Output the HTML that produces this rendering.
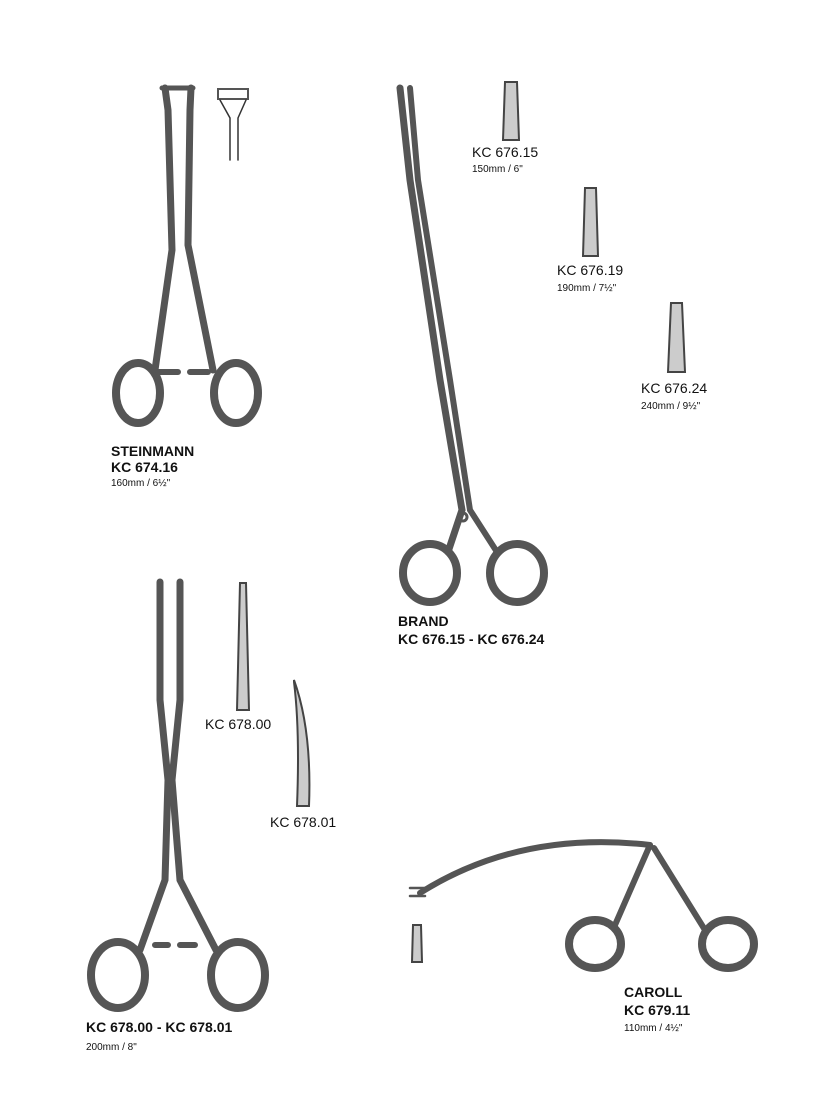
<!DOCTYPE html>
<html><head><meta charset="utf-8"><style>
body{margin:0;background:#fff;}
svg{display:block}
text{font-family:"Liberation Sans",Arial,sans-serif;fill:#111}
.b{font-weight:bold;font-size:14px}
.r{font-size:14px}
.s{font-size:10px}
</style></head><body>
<svg width="826" height="1101" viewBox="0 0 826 1101" xmlns="http://www.w3.org/2000/svg">
<g fill="none" stroke="#555" stroke-linecap="round">
<!-- Steinmann -->
<ellipse cx="138" cy="393" rx="22" ry="30" stroke-width="8"/>
<ellipse cx="236" cy="393" rx="22" ry="30" stroke-width="8"/>
<path d="M155 370 L172 250 L168 110 L165 88" stroke-width="7"/>
<path d="M213 370 L188 245 L190 110 L191 88" stroke-width="7"/>
<path d="M162 88 L182 88 M178 88 L193 88" stroke-width="5"/>
<path d="M158 372 L178 372 M190 372 L208 372" stroke-width="6"/>
<rect x="218" y="89" width="30" height="10" stroke-width="2"/>
<path d="M220 100 L230 118 L230 160 M246 100 L238 118 L238 160" stroke-width="1.5" stroke="#333"/>
<!-- Brand -->
<ellipse cx="430" cy="573" rx="27" ry="29" stroke-width="8"/>
<ellipse cx="517" cy="573" rx="27" ry="29" stroke-width="8"/>
<path d="M448 552 L462 510 L440 380 L410 180 L400 88" stroke-width="7"/>
<path d="M497 552 L470 510 L450 380 L418 180 L410 88" stroke-width="6"/>
<circle cx="463" cy="517" r="4" stroke-width="3"/>
<path d="M505 82 L517 82 L519 140 L503 140 Z" stroke="#444" stroke-width="2" fill="#ccc"/>
<path d="M585 188 L596 188 L598 256 L583 256 Z" stroke="#444" stroke-width="2" fill="#ccc"/>
<path d="M671 303 L682 303 L685 372 L668 372 Z" stroke="#444" stroke-width="2" fill="#ccc"/>
<!-- 678 -->
<ellipse cx="118" cy="975" rx="27" ry="33" stroke-width="8"/>
<ellipse cx="238" cy="975" rx="27" ry="33" stroke-width="8"/>
<path d="M140 950 L165 880 L168 780 L160 700 L160 582" stroke-width="7"/>
<path d="M216 950 L180 880 L172 780 L180 700 L180 582" stroke-width="7"/>
<path d="M155 945 L168 945 M180 945 L195 945" stroke-width="6"/>
<path d="M240 583 L246 583 L249 710 L237 710 Z" stroke="#444" stroke-width="2" fill="#ccc"/>
<path d="M294 680 Q312 730 309 806 L297 806 Q300 730 294 682 Z" stroke="#444" stroke-width="2" fill="#ccc"/>
<!-- Caroll -->
<ellipse cx="595" cy="944" rx="26" ry="24" stroke-width="8"/>
<ellipse cx="728" cy="944" rx="26" ry="24" stroke-width="8"/>
<path d="M420 893 Q520 830 650 845" stroke-width="6"/>
<path d="M650 845 L615 925 M654 848 L705 930" stroke-width="6"/>
<path d="M410 888 L425 888 M410 896 L425 896" stroke-width="2.5"/>
<path d="M413 925 L421 925 L422 962 L412 962 Z" stroke="#444" stroke-width="2" fill="#ccc"/>
</g>
<text x="111" y="456" class="b">STEINMANN</text>
<text x="111" y="472" class="b">KC 674.16</text>
<text x="111" y="486" class="s">160mm / 6½"</text>
<text x="398" y="626" class="b">BRAND</text>
<text x="398" y="644" class="b">KC 676.15 - KC 676.24</text>
<text x="472" y="157" class="r">KC 676.15</text>
<text x="472" y="172" class="s">150mm / 6"</text>
<text x="557" y="275" class="r">KC 676.19</text>
<text x="557" y="291" class="s">190mm / 7½"</text>
<text x="641" y="393" class="r">KC 676.24</text>
<text x="641" y="409" class="s">240mm / 9½"</text>
<text x="205" y="729" class="r">KC 678.00</text>
<text x="270" y="827" class="r">KC 678.01</text>
<text x="86" y="1032" class="b">KC 678.00 - KC 678.01</text>
<text x="86" y="1050" class="s">200mm / 8"</text>
<text x="624" y="997" class="b">CAROLL</text>
<text x="624" y="1015" class="b">KC 679.11</text>
<text x="624" y="1031" class="s">110mm / 4½"</text>
</svg>
</body></html>
